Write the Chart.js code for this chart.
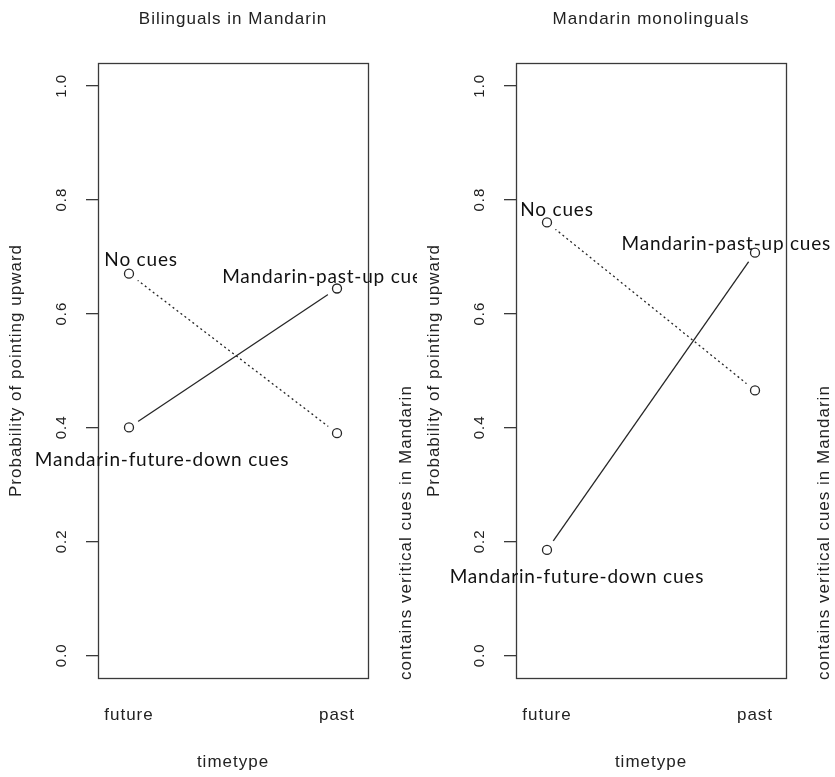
<!DOCTYPE html>
<html>
<head>
<meta charset="utf-8">
<script src="https://cdn.jsdelivr.net/npm/chart.js@4/dist/chart.umd.min.js"></script>
<style>
  body { margin: 0; background: #fff; }
  .row { display: flex; width: 835px; height: 777px; }
</style>
</head>
<body>
<div class="row">
  <canvas id="left" width="417" height="777"></canvas>
  <canvas id="right" width="418" height="777"></canvas>
</div>
<script>
// dati
const timeLabels = ['future', 'past'];
const yTicks = [0, 0.2, 0.4, 0.6, 0.8, 1.0];
const yTickLabels = ['0.0', '0.2', '0.4', '0.6', '0.8', '1.0'];

const biNoCues = [0.67, 0.39];
const biCues = [0.40, 0.644];
const monoNoCues = [0.76, 0.465];
const monoCues = [0.185, 0.707];

// etichette delle serie e loro posizione (in unita' dei dati)
const seriesLabels = ['No cues', 'Mandarin-past-up cues', 'Mandarin-future-down cues'];
const biLabelX = [1.058, 1.952, 1.159];
const biLabelY = [0.695, 0.664, 0.343];
const monoLabelX = [1.048, 1.862, 1.144];
const monoLabelY = [0.782, 0.722, 0.138];

const INK = '#262626';
const AXIS_FONT = '17px "Liberation Sans", Arial, sans-serif';
const TICK_FONT = '15px "Liberation Sans", Arial, sans-serif';
const LABEL_FONT = '19px Lato, "Open Sans", sans-serif';

function toPoints(values) {
    return values.map((v, i) => ({ x: i + 1, y: v }));
}

// disegna cornice, etichette e titoli in stile R
const rStylePlugin = {
    id: 'rStyle',
    afterDraw(chart, args, opts) {
        const ctx = chart.ctx;
        const a = chart.chartArea;
        const xs = chart.scales.x;
        const ys = chart.scales.y;
        const cx = (a.left + a.right) / 2;
        ctx.save();

        // cornice
        ctx.strokeStyle = '#3a3a3a';
        ctx.lineWidth = 1.3;
        ctx.strokeRect(Math.round(a.left) + 0.5, Math.round(a.top) + 0.5,
            Math.round(a.right - a.left), Math.round(a.bottom - a.top));

        ctx.fillStyle = '#222';
        ctx.letterSpacing = '1px';
        ctx.textBaseline = 'middle';
        ctx.textAlign = 'center';

        // etichette asse y ruotate
        ctx.font = TICK_FONT;
        yTicks.forEach((t, i) => {
            ctx.save();
            ctx.translate(a.left - 36, ys.getPixelForValue(t));
            ctx.rotate(-Math.PI / 2);
            ctx.fillText(yTickLabels[i], 0, 0);
            ctx.restore();
        });

        // etichette asse x
        ctx.font = AXIS_FONT;
        timeLabels.forEach((t, i) => {
            ctx.fillText(t, xs.getPixelForValue(i + 1), a.bottom + 37);
        });

        // titolo e titoli assi
        ctx.fillText(opts.title, cx, a.top - 44);
        ctx.fillText('timetype', cx, a.bottom + 84);

        ctx.save();
        ctx.translate(a.left - 82, (a.top + a.bottom) / 2);
        ctx.rotate(-Math.PI / 2);
        ctx.fillText('Probability of pointing upward', 0, 0);
        ctx.restore();

        ctx.save();
        ctx.translate(a.right + 38, a.bottom + 2);
        ctx.rotate(-Math.PI / 2);
        ctx.textAlign = 'left';
        ctx.fillText('contains veritical cues in Mandarin', 0, 0);
        ctx.restore();

        // etichette delle serie
        ctx.font = LABEL_FONT;
        ctx.letterSpacing = '0.8px';
        ctx.fillStyle = '#111';
        seriesLabels.forEach((s, i) => {
            ctx.fillText(s, xs.getPixelForValue(opts.labelX[i]), ys.getPixelForValue(opts.labelY[i]));
        });
        ctx.restore();
    }
};

function makeChart(id, title, noCues, cues, labelX, labelY, yWidth) {
    const allPoints = toPoints(noCues).concat(toPoints(cues));
    return new Chart(document.getElementById(id), {
        type: 'scatter',
        data: {
            datasets: [{
                // linea punteggiata: nessun indizio
                data: toPoints(noCues),
                showLine: true,
                borderColor: INK,
                borderWidth: 1.3,
                borderDash: [2, 3],
                pointRadius: 0,
                order: 3
            }, {
                // linea continua: indizi verticali
                data: toPoints(cues),
                showLine: true,
                borderColor: INK,
                borderWidth: 1.3,
                pointRadius: 0,
                order: 3
            }, {
                // spazio bianco attorno ai punti (type = "b")
                data: allPoints,
                pointRadius: 11,
                pointBackgroundColor: '#fff',
                pointBorderWidth: 0,
                order: 2
            }, {
                data: allPoints,
                pointRadius: 4.5,
                pointBackgroundColor: '#fff',
                pointBorderColor: INK,
                pointBorderWidth: 1.3,
                order: 1
            }]
        },
        options: {
            responsive: false,
            animation: false,
            events: [],
            layout: { padding: { top: 63, right: 49, left: 0, bottom: 0 } },
            plugins: {
                legend: { display: false },
                tooltip: { enabled: false },
                rStyle: { title: title, labelX: labelX, labelY: labelY }
            },
            scales: {
                x: {
                    type: 'linear',
                    min: 0.851,
                    max: 2.149,
                    ticks: { display: false },
                    grid: { display: false },
                    border: { display: false },
                    afterFit(scale) { scale.height = 99; }
                },
                y: {
                    min: -0.04,
                    max: 1.04,
                    afterBuildTicks(scale) { scale.ticks = yTicks.map(v => ({ value: v })); },
                    ticks: { display: false },
                    grid: {
                        display: true,
                        drawOnChartArea: false,
                        drawTicks: true,
                        tickLength: 12,
                        color: '#3a3a3a',
                        lineWidth: 1.3
                    },
                    border: { display: false },
                    afterFit(scale) { scale.width = yWidth; }
                }
            }
        },
        plugins: [rStylePlugin]
    });
}

makeChart('left', 'Bilinguals in Mandarin', biNoCues, biCues, biLabelX, biLabelY, 98);
makeChart('right', 'Mandarin monolinguals', monoNoCues, monoCues, monoLabelX, monoLabelY, 99);
</script>
</body>
</html>
